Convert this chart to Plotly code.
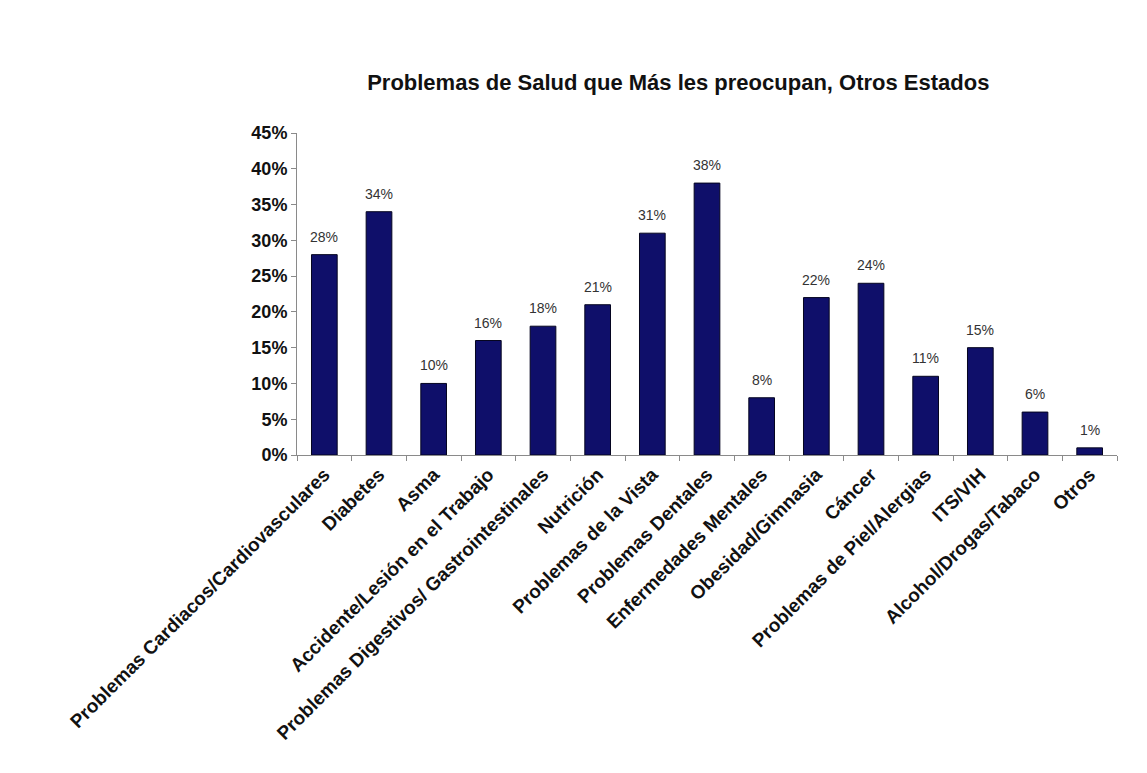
import plotly.graph_objects as go

categories = [
    "Problemas Cardiacos/Cardiovasculares",
    "Diabetes",
    "Asma",
    "Accidente/Lesión en el Trabajo",
    "Problemas Digestivos/ Gastrointestinales",
    "Nutrición",
    "Problemas de la Vista",
    "Problemas Dentales",
    "Enfermedades Mentales",
    "Obesidad/Gimnasia",
    "Cáncer",
    "Problemas de Piel/Alergias",
    "ITS/VIH",
    "Alcohol/Drogas/Tabaco",
    "Otros",
]
percentages = [28, 34, 10, 16, 18, 21, 31, 38, 8, 22, 24, 11, 15, 6, 1]
y_ticks = [0, 5, 10, 15, 20, 25, 30, 35, 40, 45]
y_tick_labels = [f"{t}%" for t in y_ticks]

FONT = "Liberation Sans, Arial, sans-serif"

fig = go.Figure(
    go.Bar(
        x=categories,
        y=percentages,
        marker=dict(color="#0f0f6a", line=dict(color="#050520", width=1)),
        hoverinfo="skip",
    )
)

# value labels above each bar
for cat, val in zip(categories, percentages):
    fig.add_annotation(
        x=cat, y=val, text=f"{val}%", showarrow=False,
        yanchor="bottom", yshift=8,
        font=dict(family=FONT, size=14, color="#333333"),
    )

fig.update_layout(
    width=1147,
    height=773,
    margin=dict(l=297, r=30, t=133, b=318),
    paper_bgcolor="white",
    plot_bgcolor="white",
    bargap=0.53,
    showlegend=False,
    title=dict(
        text="<b>Problemas de Salud que Más les preocupan, Otros Estados</b>",
        x=0.465, xref="paper", xanchor="center",
        y=1 - 82 / 773, yref="container", yanchor="middle",
        font=dict(family=FONT, size=22, color="#111111"),
    ),
    font=dict(family=FONT),
)

fig.update_xaxes(
    tickangle=-45,
    tickson="boundaries",
    ticks="outside",
    ticklen=5,
    tickcolor="#8a8a8a",
    showline=True,
    linecolor="#8a8a8a",
    linewidth=1,
    showgrid=False,
    tickfont=dict(family=FONT, size=19, color="#111111"),
    tickprefix="<b>",
    ticksuffix="</b>",
)

fig.update_yaxes(
    range=[0, 45],
    tickvals=y_ticks,
    ticktext=[f"<b>{t}</b>" for t in y_tick_labels],
    ticks="outside",
    ticklen=5,
    tickcolor="#8a8a8a",
    showline=True,
    linecolor="#8a8a8a",
    linewidth=1,
    showgrid=False,
    zeroline=False,
    tickfont=dict(family=FONT, size=18, color="#111111"),
)

fig.write_html("out.html")
